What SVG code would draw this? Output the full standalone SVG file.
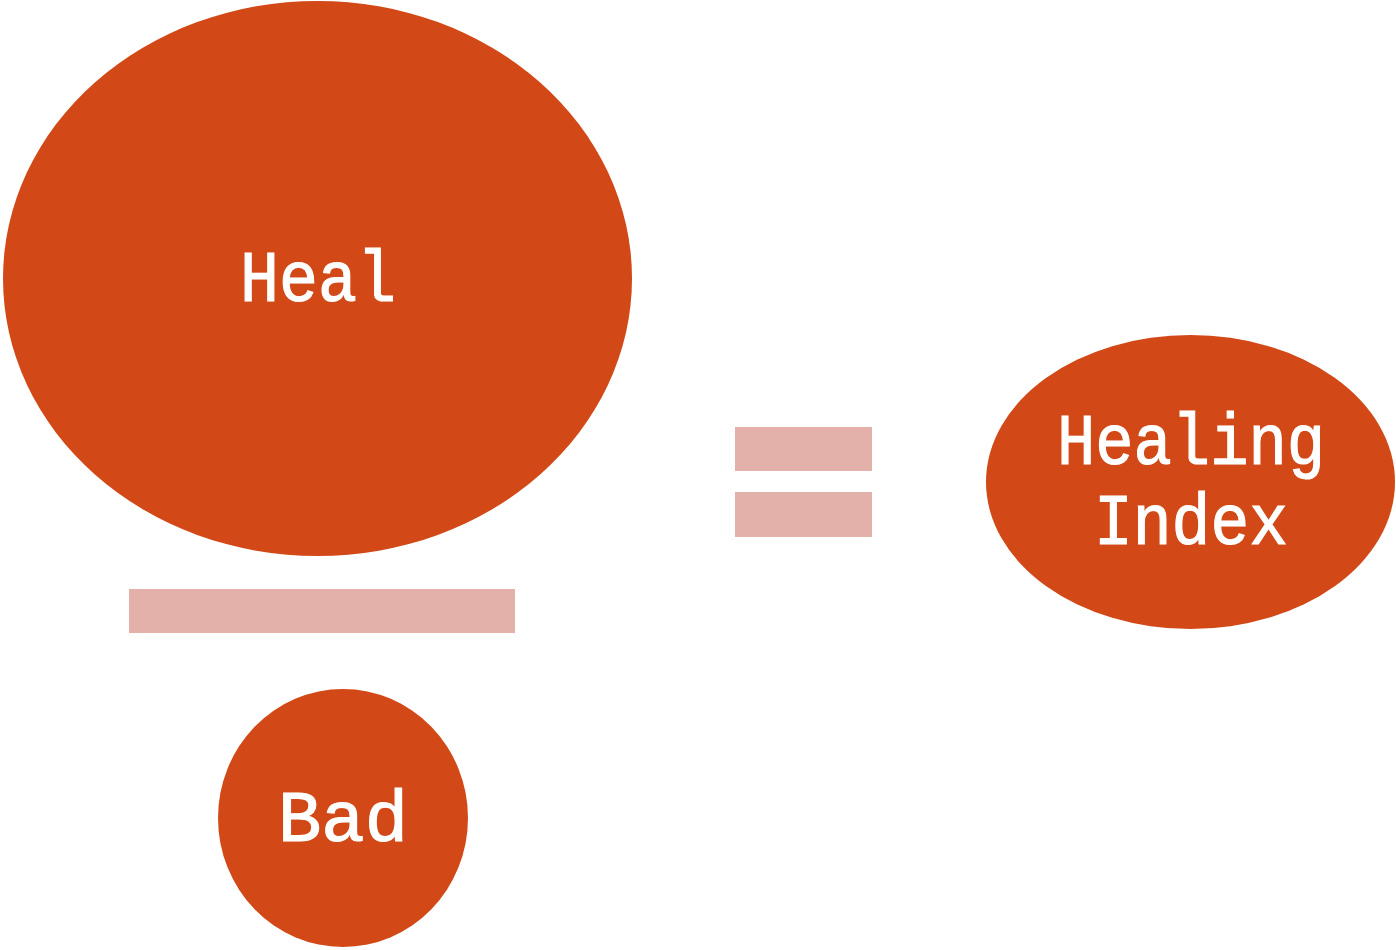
<svg xmlns="http://www.w3.org/2000/svg" width="1396" height="950" viewBox="0 0 1396 950">
<style>
.n{fill:#D24817}
.op{fill:#E4B0AA}
.t{fill:#fff;stroke:#fff;stroke-width:1.2;font-family:"Liberation Mono","Courier New",monospace;font-size:72px;text-anchor:middle}
</style>
<rect width="1396" height="950" fill="#fff"/>
<g id="connectors">
<rect class="op" x="129" y="589" width="386" height="44"/>
<rect class="op" x="735" y="427" width="137" height="44"/>
<rect class="op" x="735" y="492" width="137" height="45"/>
</g>
<g id="heal">
<ellipse class="n" cx="317.5" cy="278.5" rx="314.5" ry="277.5"/>
<text class="t" x="318" y="301" textLength="156" lengthAdjust="spacingAndGlyphs">Heal</text>
</g>
<g id="bad">
<ellipse class="n" cx="343" cy="818" rx="125" ry="129"/>
<text class="t" x="343" y="841" textLength="130" lengthAdjust="spacingAndGlyphs">Bad</text>
</g>
<g id="healing-index">
<ellipse class="n" cx="1190.5" cy="482" rx="204.5" ry="147"/>
<text class="t" x="1191" y="464" textLength="268" lengthAdjust="spacingAndGlyphs">Healing</text>
<text class="t" x="1191" y="544" textLength="194" lengthAdjust="spacingAndGlyphs">Index</text>
</g>
</svg>
